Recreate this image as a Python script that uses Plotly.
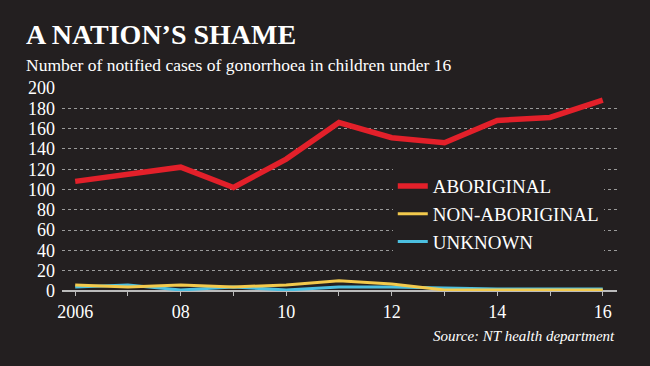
import plotly.graph_objects as go

years = [2006, 2007, 2008, 2009, 2010, 2011, 2012, 2013, 2014, 2015, 2016]
aboriginal = [108, 115, 122, 102, 130, 166, 151, 146, 168, 171, 188]
non_aboriginal = [6, 4, 6, 4, 6, 10, 7, 1, 1, 1, 1]
unknown = [4, 6, 1, 4, 1, 4, 4, 3, 2, 2, 2]
x_tick_labels = ["2006", "", "08", "", "10", "", "12", "", "14", "", "16"]
y_ticks = list(range(0, 201, 20))

BG = "#231f20"
FONT = "Liberation Serif"

fig = go.Figure()
fig.add_trace(go.Scatter(x=years, y=unknown, name="UNKNOWN", mode="lines",
                         line=dict(color="#4cbfe0", width=3)))
fig.add_trace(go.Scatter(x=years, y=non_aboriginal, name="NON-ABORIGINAL", mode="lines",
                         line=dict(color="#f2c94c", width=3)))
fig.add_trace(go.Scatter(x=years, y=aboriginal, name="ABORIGINAL", mode="lines",
                         line=dict(color="#e3202a", width=5.5)))

fig.update_layout(
    width=650, height=366,
    paper_bgcolor=BG, plot_bgcolor=BG,
    margin=dict(l=62, r=33, t=88, b=75),
    font=dict(family=FONT, color="white", size=17),
    showlegend=True,
    legend=dict(
        x=0.596, y=0.61, xanchor="left", yanchor="top",
        bgcolor=BG, font=dict(size=19, color="white", family=FONT),
        traceorder="reversed", itemwidth=30, tracegroupgap=0,
    ),
    xaxis=dict(
        range=[2005.75, 2016.27], tickvals=years, ticktext=x_tick_labels,
        showgrid=False, zeroline=False, showline=False,
        ticks="outside", ticklen=4, tickcolor="#bbbbbb",
        tickfont=dict(size=18, family=FONT, color="white"),
        fixedrange=True,
    ),
    yaxis=dict(
        range=[0, 200], tickvals=y_ticks,
        showgrid=True, gridcolor="#9a9a9a", griddash="dot", gridwidth=1,
        zeroline=True, zerolinecolor="#bbbbbb", zerolinewidth=1.5,
        tickfont=dict(size=18, family=FONT, color="white"),
        ticks="", ticklabelstandoff=6,
        fixedrange=True,
    ),
    annotations=[
        dict(text="<b>A NATION’S SHAME</b>", xref="paper", yref="paper",
             x=-0.0685, y=1.262, xanchor="left", yanchor="middle", showarrow=False,
             font=dict(size=28, family=FONT, color="white")),
        dict(text="Number of notified cases of gonorrhoea in children under 16",
             xref="paper", yref="paper", x=-0.0685, y=1.113, xanchor="left",
             yanchor="middle", showarrow=False,
             font=dict(size=17.5, family=FONT, color="white")),
        dict(text="<i>Source: NT health department</i>",
             xref="paper", yref="paper", x=1, y=-0.17, xanchor="right", yanchor="top",
             showarrow=False, font=dict(size=15, family=FONT, color="white")),
    ],
)

fig.write_html("out.html", config={"displayModeBar": False},
               post_script="document.body.style.margin='0';document.body.style.background='%s';" % BG)
